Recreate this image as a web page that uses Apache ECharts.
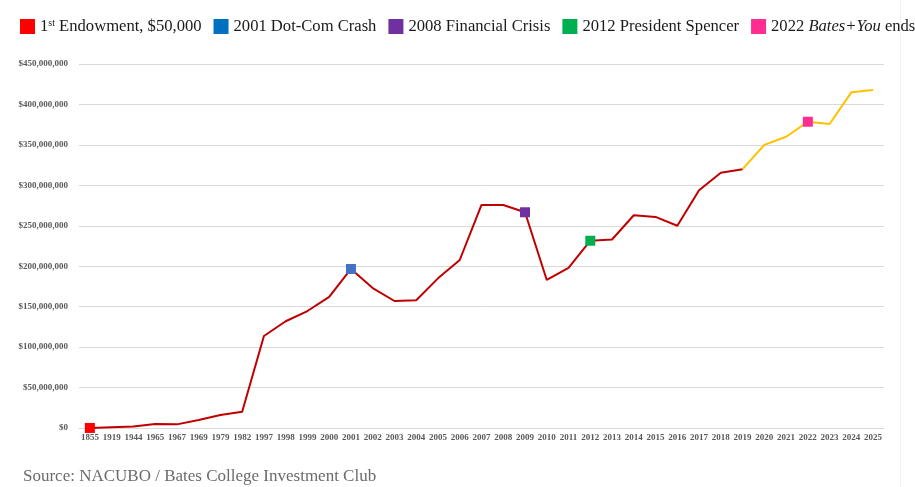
<!DOCTYPE html>
<html><head><meta charset="utf-8">
<script src="https://cdn.jsdelivr.net/npm/echarts@6/dist/echarts.min.js"></script>
<style>html,body{margin:0;padding:0;background:#fff}#c{width:915px;height:487px}</style>
</head><body><div id="c"></div>
<script>
const years = ['1855','1919','1944','1965','1967','1969','1979','1982','1997','1998','1999','2000','2001','2002','2003','2004','2005','2006','2007','2008','2009','2010','2011','2012','2013','2014','2015','2016','2017','2018','2019','2020','2021','2022','2023','2024','2025'];
const endowment = [50000,1000000,2000000,5000000,4500000,10000000,16000000,20000000,113700000,132000000,144600000,162000000,196600000,173000000,157000000,158000000,185000000,207700000,275700000,275700000,266700000,183000000,198000000,231500000,233000000,263000000,261000000,250000000,294000000,315600000,320000000,350000000,360000000,378600000,375800000,415000000,418000000];
const splitYear = '2019';
const events = [
  {name:'1st Endowment, $50,000', year:'1855', color:'#FF0000'},
  {name:'2001 Dot-Com Crash', year:'2001', color:'#4472C4'},
  {name:'2008 Financial Crisis', year:'2009', color:'#7030A0'},
  {name:'2012 President Spencer', year:'2012', color:'#00B050'},
  {name:'2022 Bates+You ends', year:'2022', color:'#FF2D8F'}
];
const legendColors = ['#FF0000','#0070C0','#7030A0','#00B050','#FF2D8F'];
const yTicks = [0,50000000,100000000,150000000,200000000,250000000,300000000,350000000,400000000,450000000];

const si = years.indexOf(splitYear);
const redData = endowment.map((v,i)=> i<=si ? v : null);
const goldData = endowment.map((v,i)=> i>=si ? v : null);

const series = [
  {type:'line', name:'red', data:redData, symbol:'none', lineStyle:{color:'#C00000', width:2}, itemStyle:{color:'#C00000'}, z:2},
  {type:'line', name:'gold', data:goldData, symbol:'none', lineStyle:{color:'#FFC000', width:2}, itemStyle:{color:'#FFC000'}, z:2}
];
events.forEach((e,k)=>{
  const idx = years.indexOf(e.year);
  series.push({type:'scatter', name:e.name, symbol:'rect', symbolSize:10, z:5,
    itemStyle:{color:e.color, opacity:1}, data:[[idx, endowment[idx]]]});
});

const fmtMoney = v => '$' + Math.round(v).toString().replace(/\B(?=(\d{3})+(?!\d))/g, ',');
const serif = "'Liberation Serif', 'DejaVu Serif', serif";
const lf = 16.6;

const chart = echarts.init(document.getElementById('c'));
chart.setOption({
  animation:false,
  backgroundColor:'#fff',
  legend:{
    data: events.map((e,k)=>({name:e.name, itemStyle:{color:legendColors[k], opacity:1}})),
    left:20, top:18, padding:0, width:1400, orient:'horizontal',
    icon:'rect', itemWidth:15, itemHeight:15, itemGap:12,
    formatter: function(name){
      if(name.indexOf('1st')===0) return '{a|1}{sup|st}{a| Endowment, $50,000}';
      if(name.indexOf('Bates+You')>=0) return '{a|2022 }{i|Bates+You}{a| ends}';
      return '{a|'+name+'}';
    },
    textStyle:{fontFamily:serif, fontSize:lf, color:'#1a1a1a', padding:[0,0,0,0],
      rich:{
        a:{fontFamily:serif, fontSize:lf, color:'#1a1a1a'},
        sup:{fontFamily:serif, fontSize:10, color:'#1a1a1a', verticalAlign:'top', padding:[0,0,7,0]},
        i:{fontFamily:serif, fontSize:lf, fontStyle:'italic', color:'#1a1a1a'}
      }}
  },
  grid:{left:79, right:31, top:64, bottom:59, containLabel:false},
  xAxis:{type:'category', data:years, boundaryGap:true,
    axisLine:{show:true, lineStyle:{color:'#d9d9d9'}}, axisTick:{show:false},
    axisLabel:{interval:0, fontFamily:serif, fontSize:9, fontWeight:'bold', color:'#595959', margin:5}},
  yAxis:{type:'value', min:0, max:450000000, interval:50000000,
    axisLine:{show:false}, axisTick:{show:false},
    splitLine:{lineStyle:{color:'#d9d9d9', width:1}},
    axisLabel:{formatter: v => yTicks.indexOf(v)>=0 ? fmtMoney(v) : '', fontFamily:serif, fontSize:9, fontWeight:'bold', color:'#595959', margin:11}},
  graphic:[
    {type:'text', left:23, top:468, style:{text:'Source: NACUBO / Bates College Investment Club', fontFamily:serif, fontSize:17, fill:'#6b6b6b'}},
    {type:'line', shape:{x1:900.5,y1:0,x2:900.5,y2:487}, style:{stroke:'#f2f2f2', lineWidth:1}}
  ],
  series: series
});
</script></body></html>
